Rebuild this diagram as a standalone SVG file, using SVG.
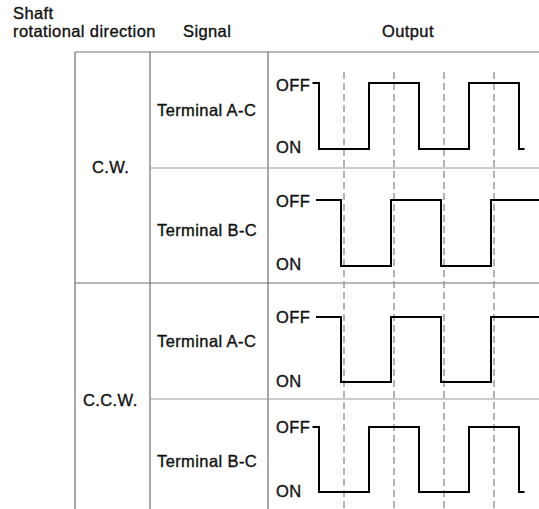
<svg xmlns="http://www.w3.org/2000/svg" width="539" height="509" viewBox="0 0 539 509">
<style>
text{font-family:"Liberation Sans",Arial,sans-serif;font-size:16.5px;letter-spacing:0.4px;fill:#111;stroke:#111;stroke-width:0.35}
.grid{stroke:#707070;stroke-width:1.2;fill:none}
.gridl{stroke:#9a9a9a;stroke-width:1.2;fill:none}
.wave{stroke:#000;stroke-width:2;fill:none}
.dash{stroke:#9a9a9a;stroke-width:1.5;stroke-dasharray:7 4;fill:none}
</style>
<rect width="539" height="509" fill="#fff"/>
<g id="headers">
<text x="13" y="19">Shaft</text>
<text x="13" y="37">rotational direction</text>
<text x="183" y="37">Signal</text>
<text x="382" y="37">Output</text>
</g>
<g id="table">
<path class="grid" d="M75,52H539M75,52V509M150,52V509M268,52V509M75,283H539"/>
<path class="gridl" d="M150,168H539M150,399H539"/>
</g>
<g id="cw">
<text x="92" y="173">C.W.</text>
<text x="157" y="116">Terminal A-C</text>
<text x="157" y="236">Terminal B-C</text>
</g>
<g id="ccw">
<text x="83" y="406">C.C.W.</text>
<text x="157" y="347">Terminal A-C</text>
<text x="157" y="467">Terminal B-C</text>
</g>
<g id="levels">
<text x="276" y="91">OFF</text><text x="276" y="153">ON</text>
<text x="276" y="207">OFF</text><text x="276" y="270">ON</text>
<text x="276" y="323">OFF</text><text x="276" y="387">ON</text>
<text x="276" y="433">OFF</text><text x="276" y="497">ON</text>
</g>
<g id="connectors">
<path class="dash" d="M344,72V509M394,72V509M444,72V509M494,72V509"/>
<path class="wave" d="M312.5,83H319V149H369V83H419V149H469V83H519V149H524.5"/>
<path class="wave" d="M316,200H341V266H391V200H441V266H491V200H539"/>
<path class="wave" d="M316,317H341V382H391V317H441V382H491V317H539"/>
<path class="wave" d="M312.5,427H319V492H369V427H419V492H469V427H519V492H524.5"/>
</g>
</svg>
